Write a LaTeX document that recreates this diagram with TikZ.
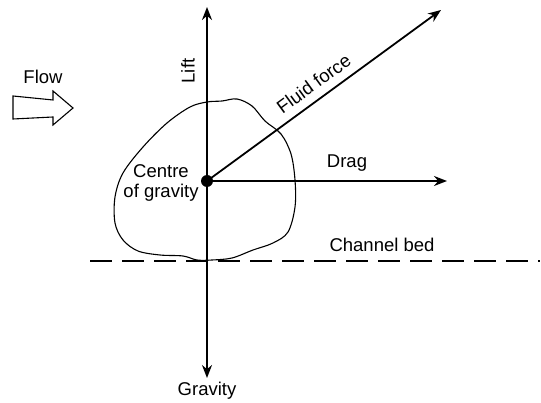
\documentclass[tikz,border=0pt]{standalone}
\usepackage{fontspec}
\setmainfont{Liberation Sans}
\usetikzlibrary{arrows.meta}
\begin{document}
\begin{tikzpicture}[x=1pt,y=-1pt,
  lbl/.style={inner sep=0pt, font=\fontsize{18.5}{21}\selectfont},
  force/.style={line width=1.8pt, -{Stealth[length=13pt,width=10pt]}},
  thin line/.style={line width=1.1pt}]
\useasboundingbox (0,0) rectangle (541,403);
% blob
\draw[thin line] plot[smooth cycle, tension=0.55] coordinates {
 (207,102) (222,101) (237,99) (252,106) (265,121) (281,134) (291,154) (295,180)
 (295,207) (288,232) (273,243) (253,250) (232,258) (212,260) (197,260) (183,256)
 (160,255) (138,251) (123,240) (115,223) (115,197) (123,173) (143,147) (167,123) (190,107)};
% channel bed
\coordinate (bedL) at (90,261);
\coordinate (bedR) at (540,261);
\draw[thin line, dash pattern=on 22pt off 10pt] (bedL) -- (bedR);
% forces
\coordinate (cg) at (207,181);
\coordinate (liftT) at (207,7);
\coordinate (gravB) at (207,378);
\coordinate (dragE) at (447,181);
\coordinate (fluidE) at (441,10);
\draw[force] (cg) -- (liftT);
\draw[force] (cg) -- (gravB);
\draw[force] (cg) -- (dragE);
\draw[force] (cg) -- (fluidE) node[lbl, pos=0.495, sloped, anchor=south, yshift=8pt] (fluid) {Fluid force};
\fill (cg) circle (6);
% labels
\node[lbl, rotate=90] (lift) at (188,71) {Lift};
\node[lbl] (drag) at (347,163) {Drag};
\node[lbl, align=center] (cog) at (161,183) {Centre\\[-1pt]of gravity};
\node[lbl] (bed) at (382,245) {Channel bed};
\node[lbl] (grav) at (207,391) {Gravity};
\node[lbl] (flowl) at (43,77) {Flow};
% flow arrow
\draw[thin line, line join=miter] (13,96) -- (53,100) -- (53,91) -- (73,108) -- (53,125) -- (53,117) -- (13,119) -- cycle;
\end{tikzpicture}
\end{document}
